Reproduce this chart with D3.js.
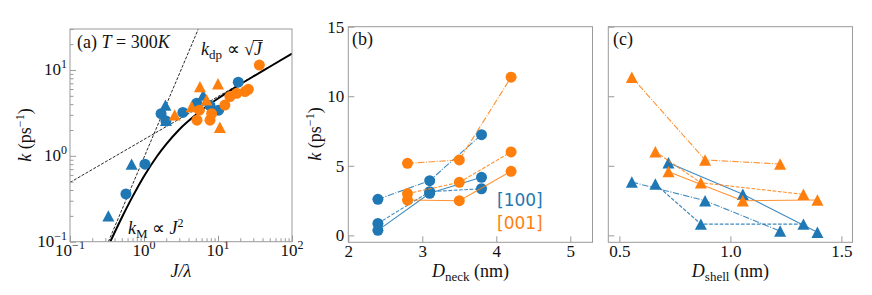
<!DOCTYPE html>
<html lang="en">
<head>
<meta charset="UTF-8">
<title>k vs J, Dneck, Dshell</title>
<style>
  body{margin:0;background:#fff;}
  svg{display:block;}
</style>
</head>
<body>
<svg width="872" height="295"></svg>
<script src="https://cdn.jsdelivr.net/npm/d3@7"></script>
<script>
// ---- data ----
// (a) rate vs J/lambda (log-log)
var aBlueCircJ = [0.57, 1.03, 1.7, 1.98, 3.35, 5.15, 7.8, 10.2, 18.8];
var aBlueCircK = [0.36, 0.80, 3.1, 2.55, 3.2, 4.1, 3.85, 3.4, 7.2];
var aBlueTriJ = [0.33, 0.68, 1.95, 1.98, 6.3];
var aBlueTriK = [0.20, 0.80, 3.9, 2.6, 5.1];
var aOrangeCircJ = [5.2, 5.6, 7.8, 8.2, 12.4, 14.5, 17.9, 23.2, 25.7, 36.2];
var aOrangeCircK = [2.6, 3.4, 2.6, 3.1, 3.9, 4.9, 5.35, 5.6, 5.95, 11.4];
var aOrangeTriJ = [2.6, 4.4, 5.7, 7.0, 10.0, 10.6];
var aOrangeTriK = [3.0, 3.75, 6.4, 4.5, 6.9, 2.15];
// guide lines k_M ~ J^2, k_dp ~ sqrt(J), and the full curve
var kmJ = [0.33, 5.42], kmK = [0.1, 30];
var kdpJ = [0.1, 100], kdpK = [0.49, 15.5];
var fitJ = [0.35, 0.5, 0.7, 1, 1.5, 2, 3, 5, 7, 10, 20, 30, 50, 100];
var fitK = [0.10, 0.19, 0.335, 0.58, 0.99, 1.37, 2.03, 3.0, 3.76, 4.65, 6.8, 8.4, 10.9, 15.5];

// (b) rate vs neck diameter
var neck100 = [2.4, 3.1, 3.8];
var neck001 = [2.8, 3.5, 4.2];
var kNeck100Solid = [0.36, 3.02, 4.17];
var kNeck100Dashed = [0.86, 3.14, 3.35];
var kNeck100DashDot = [2.59, 3.93, 7.24];
var kNeck001Solid = [2.54, 2.49, 4.6];
var kNeck001Dashed = [3.0, 3.81, 6.0];
var kNeck001DashDot = [5.18, 5.42, 11.37];

// (c) rate vs shell thickness
var shellSolid = [0.721, 1.056, 1.392];
var shellDashed = [0.662, 0.867, 1.329];
var shellDashDot = [0.556, 0.886, 1.224];
var kShell100Solid = [5.22, 2.95, 0.22];
var kShell100Dashed = [3.69, 0.81, 0.81];
var kShell100DashDot = [3.83, 2.49, 0.31];
var kShell001Solid = [4.58, 2.49, 2.54];
var kShell001Dashed = [6.01, 3.78, 2.95];
var kShell001DashDot = [11.37, 5.42, 5.13];

// ticks
var aMajor = [0.1, 1, 10, 100];
var aExp = ['\u22121', '0', '1', '2'];
var kTicks = [0, 5, 10, 15];
var neckTicks = [2, 3, 4, 5];
var shellTicks = [0.5, 1.0, 1.5];

var blue = '#1f77b4', orange = '#ff7f0e', frameCol = '#9a9a9a', ink = '#111';
var serif = 'Liberation Serif, serif';
var tickFs = 17, labFs = 18;
var dashes = {solid: null, dashed: '3.7,1.6', dashdot: '6.4,1.6,1,1.6'};

var svg = d3.select('svg').attr('font-family', serif).attr('fill', ink);

// ---- helpers ----
function txt(x, y, size) {
  return svg.append('text').attr('x', x).attr('y', y).attr('font-size', size)
    .attr('font-family', serif).attr('fill', ink);
}
function frame(x0, x1, y0, y1) {
  svg.append('rect').attr('x', x0).attr('y', y0).attr('width', x1 - x0).attr('height', y1 - y0)
    .attr('fill', 'none').attr('stroke', frameCol).attr('stroke-width', 1);
}
function tri(x, y, w) {
  var h = w * 0.95;
  return 'M' + x + ',' + (y - h / 2) + 'L' + (x + w / 2) + ',' + (y + h / 2) + 'L' + (x - w / 2) + ',' + (y + h / 2) + 'Z';
}
function zip(a, b) { return a.map(function (v, i) { return [v, b[i]]; }); }
function styleAxis(g) {
  g.attr('font-family', serif);
  g.select('.domain').remove();
  g.selectAll('line').attr('stroke', frameCol);
  g.selectAll('text').attr('font-family', serif).attr('font-size', tickFs).attr('fill', ink);
}
// "k (ps^-1)" rotated label
function kLabel(x, y) {
  var t = txt(0, 0, labFs).attr('transform', 'translate(' + x + ',' + y + ') rotate(-90)').attr('text-anchor', 'middle');
  t.append('tspan').attr('font-style', 'italic').text('k');
  t.append('tspan').text(' (ps');
  t.append('tspan').attr('dy', -7).attr('font-size', 12).text('\u22121');
  t.append('tspan').attr('dy', 7).text(')');
}
function dLabel(x, y, sub) {
  var t = txt(x, y, labFs).attr('text-anchor', 'middle');
  t.append('tspan').attr('font-style', 'italic').text('D');
  t.append('tspan').attr('dy', 4).attr('font-size', 13).text(sub);
  t.append('tspan').attr('dy', -4).text(' (nm)');
}

// ================= panel (a) =================
var ax0 = 70, ax1 = 292, ay0 = 29, ay1 = 241.7;
var xA = d3.scaleLog().domain([0.1, 100]).range([ax0, ax1]);
var yA = d3.scaleLog().domain([0.1, 30]).range([ay1, ay0]);

svg.append('clipPath').attr('id', 'clipA').append('rect')
  .attr('x', ax0).attr('y', ay0).attr('width', ax1 - ax0).attr('height', ay1 - ay0);
var gA = svg.append('g').attr('clip-path', 'url(#clipA)');

var isMajor = function (v) { return Math.abs(Math.log10(v) - Math.round(Math.log10(v))) < 1e-6; };
var xMinor = xA.ticks().filter(function (v) { return !isMajor(v); });
var yMinor = yA.ticks().filter(function (v) { return !isMajor(v); });

svg.append('g').attr('transform', 'translate(0,' + ay1 + ')')
  .call(d3.axisBottom(xA).tickValues(aMajor).tickSizeInner(-6).tickSizeOuter(0).tickFormat(''))
  .call(styleAxis);
svg.append('g').attr('transform', 'translate(0,' + ay1 + ')')
  .call(d3.axisBottom(xA).tickValues(xMinor).tickSizeInner(-3.5).tickSizeOuter(0).tickFormat(''))
  .call(styleAxis);
svg.append('g').attr('transform', 'translate(' + ax0 + ',0)')
  .call(d3.axisLeft(yA).tickValues([0.1, 1, 10]).tickSizeInner(-6).tickSizeOuter(0).tickFormat(''))
  .call(styleAxis);
svg.append('g').attr('transform', 'translate(' + ax0 + ',0)')
  .call(d3.axisLeft(yA).tickValues(yMinor).tickSizeInner(-3.5).tickSizeOuter(0).tickFormat(''))
  .call(styleAxis);

aMajor.forEach(function (v, i) {
  var t = txt(xA(v), ay1 + 14.5, tickFs).attr('text-anchor', 'middle');
  t.append('tspan').text('10');
  t.append('tspan').attr('dy', -7).attr('font-size', 12).text(aExp[i]);
  if (v <= 10) {
    var u = txt(ax0 - 3, yA(v) + 5.5, tickFs).attr('text-anchor', 'end');
    u.append('tspan').text('10');
    u.append('tspan').attr('dy', -7).attr('font-size', 12).text(aExp[i]);
  }
});

var lineA = d3.line().x(function (d) { return xA(d[0]); }).y(function (d) { return yA(d[1]); });
gA.append('path').attr('d', lineA(zip(kmJ, kmK))).attr('fill', 'none').attr('stroke', '#111')
  .attr('stroke-width', 0.9).attr('stroke-dasharray', '3,1.5');
gA.append('path').attr('d', lineA(zip(kdpJ, kdpK))).attr('fill', 'none').attr('stroke', '#111')
  .attr('stroke-width', 0.9).attr('stroke-dasharray', '3,1.5');
gA.append('path').attr('d', lineA.curve(d3.curveMonotoneX)(zip(fitJ, fitK))).attr('fill', 'none')
  .attr('stroke', '#000').attr('stroke-width', 2);

gA.selectAll('.bc').data(zip(aBlueCircJ, aBlueCircK)).enter().append('circle')
  .attr('cx', function (d) { return xA(d[0]); }).attr('cy', function (d) { return yA(d[1]); })
  .attr('r', 5.5).attr('fill', blue);
gA.selectAll('.bt').data(zip(aBlueTriJ, aBlueTriK)).enter().append('path')
  .attr('d', function (d) { return tri(xA(d[0]), yA(d[1]), 12); }).attr('fill', blue);
gA.selectAll('.oc').data(zip(aOrangeCircJ, aOrangeCircK)).enter().append('circle')
  .attr('cx', function (d) { return xA(d[0]); }).attr('cy', function (d) { return yA(d[1]); })
  .attr('r', 5.5).attr('fill', orange);
gA.selectAll('.ot').data(zip(aOrangeTriJ, aOrangeTriK)).enter().append('path')
  .attr('d', function (d) { return tri(xA(d[0]), yA(d[1]), 12); }).attr('fill', orange);

frame(ax0, ax1, ay0, ay1);

// annotations
var ta = txt(77, 48, labFs);
ta.append('tspan').text('(a) ');
ta.append('tspan').attr('font-style', 'italic').text('T');
ta.append('tspan').text(' = 300');
ta.append('tspan').attr('font-style', 'italic').text('K');

var tdp = txt(201, 55, labFs);
tdp.append('tspan').attr('font-style', 'italic').text('k');
tdp.append('tspan').attr('dy', 4).attr('font-size', 13).text('dp');
tdp.append('tspan').attr('dy', -4).text(' \u221D \u221A');
tdp.append('tspan').attr('font-style', 'italic').text('J');
var nd = tdp.node(), ext = nd.getExtentOfChar(nd.getNumberOfChars() - 1);
svg.append('line').attr('x1', ext.x - 1).attr('x2', ext.x + ext.width + 1)
  .attr('y1', ext.y + 1.5).attr('y2', ext.y + 1.5).attr('stroke', '#111').attr('stroke-width', 0.9);

var tm = txt(128, 234, labFs);
tm.append('tspan').attr('font-style', 'italic').text('k');
tm.append('tspan').attr('dy', 4).attr('font-size', 13).text('M');
tm.append('tspan').attr('dy', -4).text(' \u221D ');
tm.append('tspan').attr('font-style', 'italic').text('J');
tm.append('tspan').attr('dy', -7).attr('font-size', 12).text('2');

txt((ax0 + ax1) / 2, 277, labFs).attr('text-anchor', 'middle').attr('font-style', 'italic').text('J/\u03BB');
kLabel(31, 135);

// ================= panels (b) and (c) =================
var by0 = 26.7, by1 = 242.3;
var yK = d3.scaleLinear().domain([-0.5, 15]).range([by1, by0]);
var bx0 = 348.3, bx1 = 592.5, cx0 = 608.3, cx1 = 852.5;
var xB = d3.scaleLinear().domain([2, 5.3]).range([bx0, bx1]);
var xC = d3.scaleLinear().domain([0.45, 1.55]).range([cx0, cx1]);

svg.append('g').attr('transform', 'translate(0,' + by1 + ')')
  .call(d3.axisBottom(xB).tickValues(neckTicks).tickSizeInner(-6).tickSizeOuter(0).tickPadding(3).tickFormat(d3.format('d')))
  .call(styleAxis);
svg.append('g').attr('transform', 'translate(' + bx0 + ',0)')
  .call(d3.axisLeft(yK).tickValues(kTicks).tickSizeInner(-6).tickSizeOuter(0).tickPadding(4).tickFormat(d3.format('d')))
  .call(styleAxis);
svg.append('g').attr('transform', 'translate(0,' + by1 + ')')
  .call(d3.axisBottom(xC).tickValues(shellTicks).tickSizeInner(-6).tickSizeOuter(0).tickPadding(3).tickFormat(d3.format('.1f')))
  .call(styleAxis);
svg.append('g').attr('transform', 'translate(' + cx0 + ',0)')
  .call(d3.axisLeft(yK).tickValues(kTicks).tickSizeInner(-6).tickSizeOuter(0).tickFormat(''))
  .call(styleAxis);

function series(xs, ys, xScale, color, style) {
  var pts = zip(xs, ys);
  var ln = d3.line().x(function (d) { return xScale(d[0]); }).y(function (d) { return yK(d[1]); });
  svg.append('path').attr('d', ln(pts)).attr('fill', 'none').attr('stroke', color)
    .attr('stroke-width', 1.1).attr('stroke-opacity', 0.85).attr('stroke-dasharray', dashes[style]);
  return pts;
}
function marks(pts, xScale, color, marker) {
  pts.forEach(function (d) {
    if (marker === 'o') {
      svg.append('circle').attr('cx', xScale(d[0])).attr('cy', yK(d[1])).attr('r', 5.5).attr('fill', color);
    } else {
      svg.append('path').attr('d', tri(xScale(d[0]), yK(d[1]), 12)).attr('fill', color);
    }
  });
}

var bSets = [
  [neck100, kNeck100Solid, blue, 'solid'],
  [neck100, kNeck100Dashed, blue, 'dashed'],
  [neck100, kNeck100DashDot, blue, 'dashdot'],
  [neck001, kNeck001Solid, orange, 'solid'],
  [neck001, kNeck001Dashed, orange, 'dashed'],
  [neck001, kNeck001DashDot, orange, 'dashdot']
];
bSets.forEach(function (s) { marks(series(s[0], s[1], xB, s[2], s[3]), xB, s[2], 'o'); });

var cSets = [
  [shellSolid, kShell100Solid, blue, 'solid'],
  [shellDashed, kShell100Dashed, blue, 'dashed'],
  [shellDashDot, kShell100DashDot, blue, 'dashdot'],
  [shellSolid, kShell001Solid, orange, 'solid'],
  [shellDashed, kShell001Dashed, orange, 'dashed'],
  [shellDashDot, kShell001DashDot, orange, 'dashdot']
];
cSets.forEach(function (s) { marks(series(s[0], s[1], xC, s[2], s[3]), xC, s[2], '^'); });

frame(bx0, bx1, by0, by1);
frame(cx0, cx1, by0, by1);

txt(352, 45, labFs).text('(b)');
txt(613, 45, labFs).text('(c)');
svg.append('text').attr('x', 497).attr('y', 206).attr('font-size', 17)
  .attr('font-family', 'DejaVu Sans, sans-serif').attr('fill', blue).text('[100]');
svg.append('text').attr('x', 497).attr('y', 229).attr('font-size', 17)
  .attr('font-family', 'DejaVu Sans, sans-serif').attr('fill', orange).text('[001]');

kLabel(321, 134);
dLabel((bx0 + bx1) / 2, 277, 'neck');
dLabel((cx0 + cx1) / 2, 277, 'shell');
</script>
</body>
</html>
